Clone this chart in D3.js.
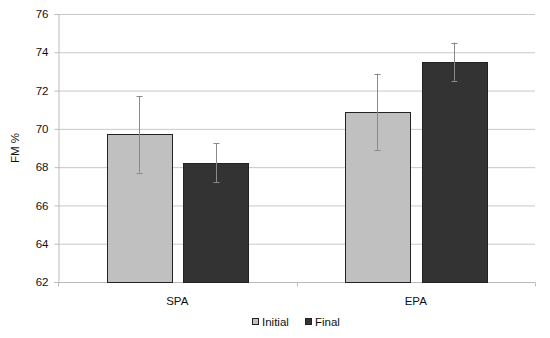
<!DOCTYPE html>
<html>
<head>
<meta charset="utf-8">
<script src="https://cdn.jsdelivr.net/npm/d3@7"></script>
<style>
body { margin: 0; background: #fff; }
svg { font-family: "Liberation Sans", Arial, sans-serif; }
</style>
</head>
<body>
<svg width="550" height="338"></svg>
<script>
// chart values
var groups = ["SPA", "EPA"]
var series = ["Initial", "Final"]
var initialMean = [69.72, 70.88]
var initialErr = [2.0, 2.0]
var finalMean = [68.22, 73.51]
var finalErr = [1.02, 1.0]
var yTicks = [62, 64, 66, 68, 70, 72, 74, 76]
var colors = ["#c0c0c0", "#333333"]

var svg = d3.select("svg"),
	margin = { top: 14, right: 15, bottom: 56, left: 58 },
	width = +svg.attr("width") - margin.left - margin.right,
	height = +svg.attr("height") - margin.top - margin.bottom

var fs = 11.5

var x0 = d3.scaleBand().domain(groups).range([0, width])
var x1 = d3.scaleBand().domain(series).range([0, x0.bandwidth()])
	.paddingInner(0.16).paddingOuter(0.633)
var y = d3.scaleLinear().domain([62, 76]).range([height, 0])
var color = d3.scaleOrdinal().domain(series).range(colors)

var g = svg.append("g")
	.attr("transform", "translate(" + margin.left + "," + margin.top + ")")

// grid lines
g.append("g")
	.selectAll("line")
	.data(yTicks.slice(1))
	.enter().append("line")
		.attr("x1", 0).attr("x2", width)
		.attr("y1", function(d) { return y(d) + 0.5 })
		.attr("y2", function(d) { return y(d) + 0.5 })
		.attr("stroke", "#c8c8c8")

// y axis
var yAxis = g.append("g")
	.attr("transform", "translate(0.5,0)")
	.call(d3.axisLeft(y).tickValues(yTicks).tickSize(4).tickPadding(6))
yAxis.select(".domain").attr("stroke", "#bbbbbb")
yAxis.selectAll(".tick line").attr("stroke", "#bbbbbb")
yAxis.selectAll("text").attr("font-size", fs).attr("fill", "#111").attr("font-family", null)

// x axis with ticks between categories
var xAxis = g.append("g")
	.attr("transform", "translate(0," + (height + 0.5) + ")")
xAxis.append("line")
	.attr("x1", 0).attr("x2", width)
	.attr("stroke", "#bbbbbb")
xAxis.selectAll(".sep")
	.data([0, 1, 2])
	.enter().append("line")
		.attr("x1", function(d) { return Math.round(d * x0.step()) + 0.5 })
		.attr("x2", function(d) { return Math.round(d * x0.step()) + 0.5 })
		.attr("y1", 0).attr("y2", 4)
		.attr("stroke", "#bbbbbb")
xAxis.selectAll("text")
	.data(groups)
	.enter().append("text")
		.attr("x", function(d) { return x0(d) + x0.bandwidth() / 2 })
		.attr("y", 22)
		.attr("text-anchor", "middle")
		.attr("font-size", fs)
		.attr("fill", "#111")
		.text(function(d) { return d })

// build rows for bars
var rows = []
groups.forEach(function(grp, i) {
	rows.push({ group: grp, key: "Initial", value: initialMean[i], err: initialErr[i] })
	rows.push({ group: grp, key: "Final", value: finalMean[i], err: finalErr[i] })
})

g.selectAll(".bar")
	.data(rows)
	.enter().append("rect")
		.attr("class", "bar")
		.attr("x", function(d) { return Math.round(x0(d.group) + x1(d.key)) + 0.5 })
		.attr("y", function(d) { return Math.round(y(d.value)) + 0.5 })
		.attr("width", Math.round(x1.bandwidth()))
		.attr("height", function(d) { return height - Math.round(y(d.value)) })
		.attr("fill", function(d) { return color(d.key) })
		.attr("stroke", "#222")

// error bars
var eb = g.selectAll(".err")
	.data(rows)
	.enter().append("g")
		.attr("class", "err")
		.attr("transform", function(d) {
			return "translate(" + (Math.round(x0(d.group) + x1(d.key) + x1.bandwidth() / 2) + 0.5) + ",0)"
		})
eb.append("line")
	.attr("y1", function(d) { return y(d.value + d.err) })
	.attr("y2", function(d) { return y(d.value - d.err) })
	.attr("stroke", "#8a8a8a")
eb.append("line")
	.attr("x1", -3).attr("x2", 3)
	.attr("y1", function(d) { return Math.round(y(d.value + d.err)) + 0.5 })
	.attr("y2", function(d) { return Math.round(y(d.value + d.err)) + 0.5 })
	.attr("stroke", "#8a8a8a")
eb.append("line")
	.attr("x1", -3).attr("x2", 3)
	.attr("y1", function(d) { return Math.round(y(d.value - d.err)) + 0.5 })
	.attr("y2", function(d) { return Math.round(y(d.value - d.err)) + 0.5 })
	.attr("stroke", "#8a8a8a")

// y axis title
svg.append("text")
	.attr("transform", "translate(19," + (margin.top + height / 2) + ") rotate(-90)")
	.attr("text-anchor", "middle")
	.attr("font-size", fs)
	.attr("fill", "#111")
	.text("FM %")

// legend
var legend = svg.append("g").attr("transform", "translate(252,318)")
var item = legend.selectAll("g")
	.data(series)
	.enter().append("g")
		.attr("transform", function(d, i) { return "translate(" + (i * 53) + ",0)" })
item.append("rect")
	.attr("x", 0.5).attr("y", 0.5)
	.attr("width", 6).attr("height", 6)
	.attr("fill", function(d) { return color(d) })
	.attr("stroke", "#222")
item.append("text")
	.attr("x", 10).attr("y", 7.5)
	.attr("font-size", fs)
	.attr("fill", "#111")
	.text(function(d) { return d })
</script>
</body>
</html>
